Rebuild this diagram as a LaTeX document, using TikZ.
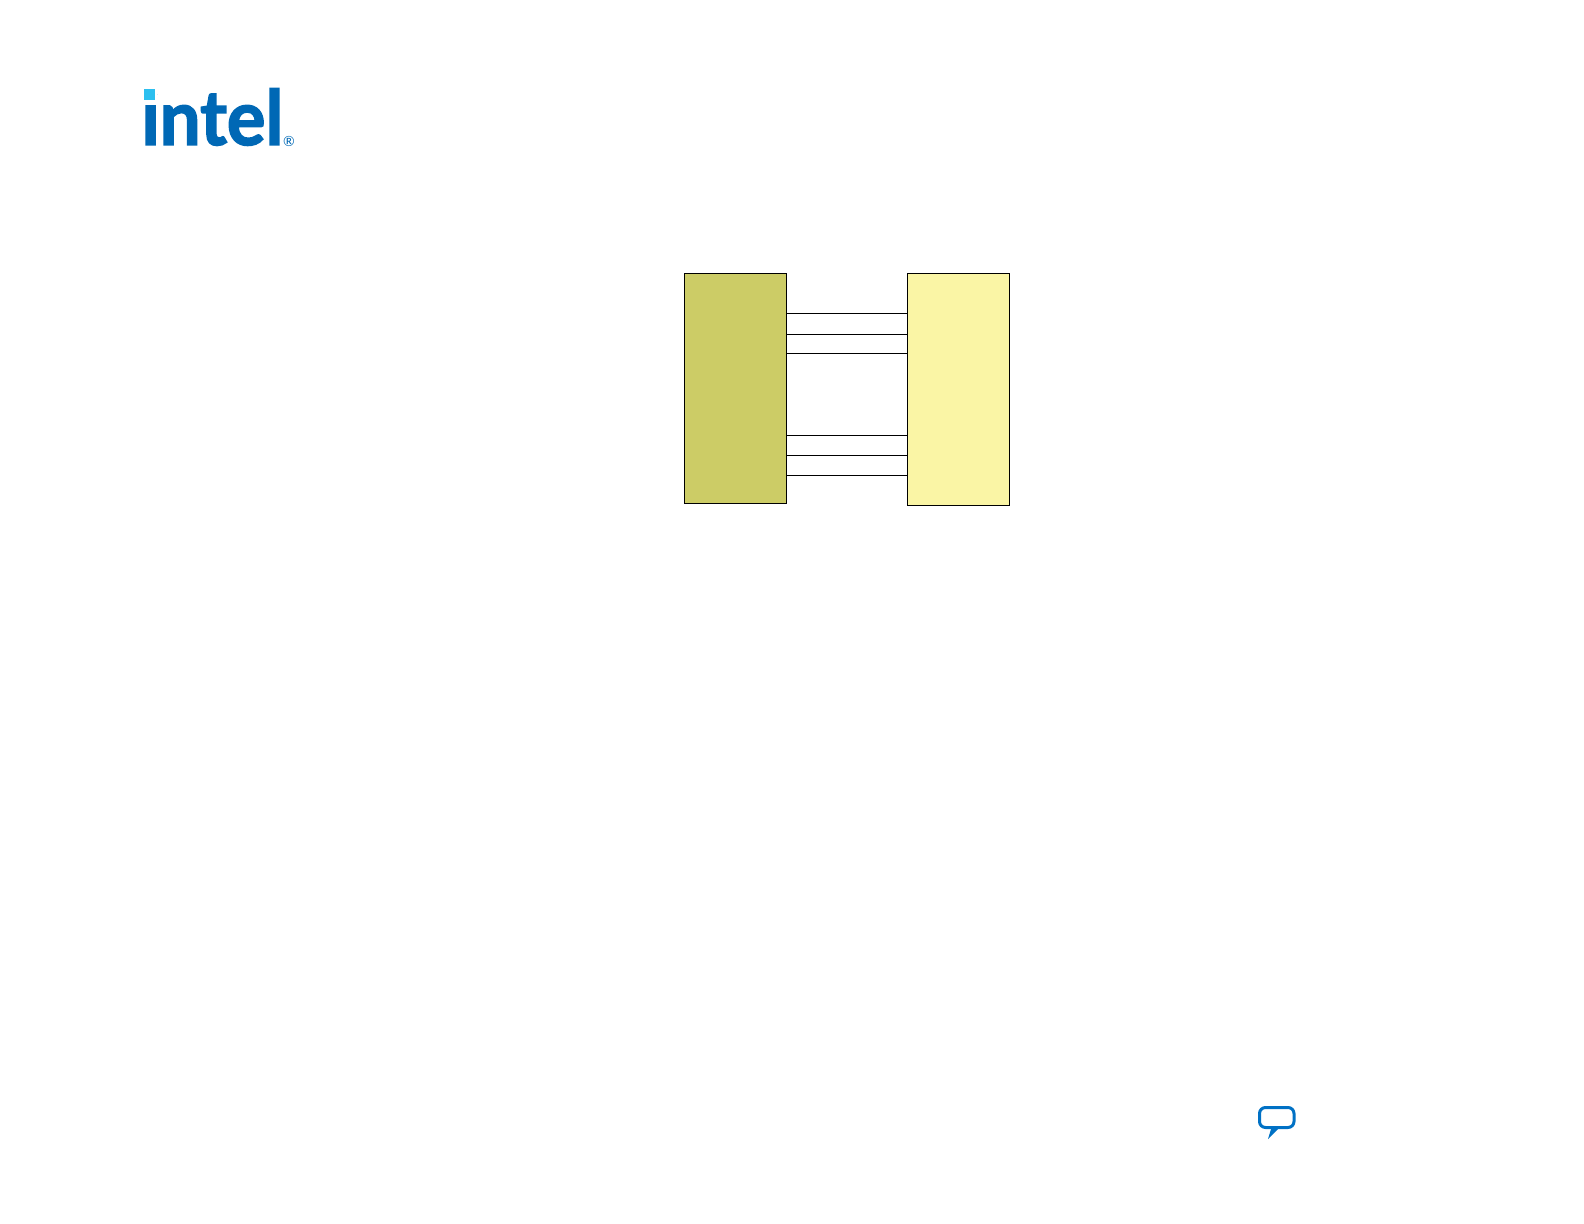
\documentclass[tikz,border=0pt]{standalone}
\usepackage{fontspec}
\usepackage{graphicx}
\setmainfont{Lato}
\usetikzlibrary{positioning}
\definecolor{logoblue}{HTML}{0068B5}
\definecolor{logosky}{HTML}{2CBFEF}
\definecolor{bubbleblue}{HTML}{0071C5}
\definecolor{olivefill}{HTML}{CCCC66}
\definecolor{palefill}{HTML}{FAF5A5}
\tikzset{
  block/.style={draw=black, line width=0.6pt, minimum width=51pt, minimum height=#1, inner sep=0pt, outer sep=0pt},
  wire/.style={draw=black, line width=0.5pt},
}

\begin{document}
\begin{tikzpicture}[x=0.5pt, y=-0.5pt]
    \useasboundingbox (0,0) rectangle (1584,1224);
    \node[block=115pt, fill=olivefill] (lbox) at (735.5,388.5) {};
    \node[block=116pt, fill=palefill] (rbox) at (958.5,389.5) {};
    \foreach \ypos in {313.3,334.3,353.3,435.3,455.3,475.3}
        \draw[wire] (lbox.east |- 0,\ypos) -- (rbox.west |- 0,\ypos);
    % logo
    \node[anchor=south west, inner sep=0pt, text=logoblue] (logo) at (141,146) {\resizebox{71pt}{28.3pt}{\addfontfeatures{FakeBold=2}\bfseries intel}};
    \node[text=logoblue, inner sep=0pt, font=\fontsize{7}{7}\selectfont] (reg) at (289,141.5) {\textregistered};
    \fill[white] (142,86) rectangle (157,103);
    \fill[logosky] (144,89) rectangle (155,100);
    % bubble
    \draw[bubbleblue, line width=1.5pt, line join=round, rounded corners=3pt] (1259.5,1107.5) rectangle (1294,1127.5);
    \fill[bubbleblue] (1268,1139) -- (1271.5,1127.5) -- (1278,1127.5) -- (1278,1129) -- cycle;
\end{tikzpicture}
\end{document}
